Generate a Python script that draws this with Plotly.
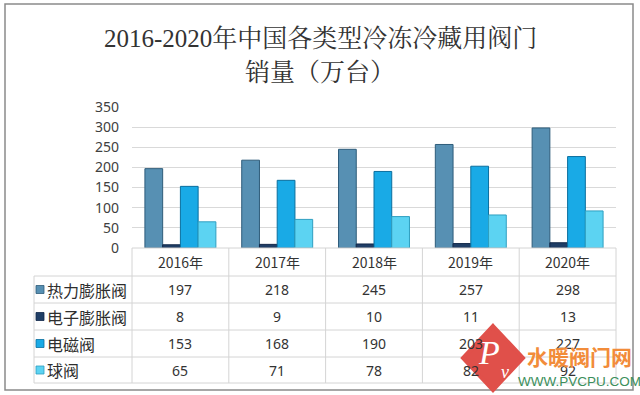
import plotly.graph_objects as go

# ---- data ----
years = ["2016年", "2017年", "2018年", "2019年", "2020年"]
series_names = ["热力膨胀阀", "电子膨胀阀", "电磁阀", "球阀"]
thermal = [197, 218, 245, 257, 298]
electronic = [8, 9, 10, 11, 13]
solenoid = [153, 168, 190, 203, 227]
ball = [65, 71, 78, 82, 92]
y_ticks = [0, 50, 100, 150, 200, 250, 300, 350]

title_line1 = "2016-2020年中国各类型冷冻冷藏用阀门"
title_line2 = "销量（万台）"

series_values = [thermal, electronic, solenoid, ball]
fill_colors = ["#5790b3", "#1f3e66", "#19aae6", "#5cd3f2"]
edge_colors = ["#2e5c7a", "#12284a", "#0b6f9e", "#2f9fc0"]

# ---- layout geometry (pixels) ----
WIDTH, HEIGHT = 640, 395
L, R, T, B = 132, 24, 107, 147
PW = WIDTH - L - R
PH = HEIGHT - T - B


def px(x):
    return (x - L) / PW


def py(y):
    return (T + PH - y) / PH


fig = go.Figure()
for name, vals, fc, ec in zip(series_names, series_values, fill_colors, edge_colors):
    fig.add_trace(go.Bar(
        x=years, y=vals, name=name,
        marker=dict(color=fc, line=dict(color=ec, width=1)),
        showlegend=False,
    ))

shapes = []
annotations = []
grid = "#d4d4d4"

# table geometry
row_edges = [248, 276, 303, 330, 357, 383]
cat_w = PW / len(years)
col_edges = [L + cat_w * k for k in range(len(years) + 1)]
left_edge = 34

# horizontal lines
shapes.append(dict(type="line", xref="paper", yref="paper",
                   x0=px(L), x1=px(L + PW), y0=py(248), y1=py(248),
                   line=dict(color=grid, width=1)))
for yy in row_edges[1:]:
    shapes.append(dict(type="line", xref="paper", yref="paper",
                       x0=px(left_edge), x1=px(L + PW), y0=py(yy), y1=py(yy),
                       line=dict(color=grid, width=1)))
# vertical lines
shapes.append(dict(type="line", xref="paper", yref="paper",
                   x0=px(left_edge), x1=px(left_edge), y0=py(276), y1=py(383),
                   line=dict(color=grid, width=1)))
for xx in col_edges:
    shapes.append(dict(type="line", xref="paper", yref="paper",
                       x0=px(xx), x1=px(xx), y0=py(248), y1=py(383),
                       line=dict(color=grid, width=1)))

# category header
for yr in years:
    annotations.append(dict(x=yr, xref="x", y=py(262), yref="paper",
                            text=yr, showarrow=False, xanchor="center", yanchor="middle",
                            font=dict(family="Noto Sans CJK SC", size=14, color="#333333")))

# rows
row_centers = [(row_edges[i] + row_edges[i + 1]) / 2 for i in range(1, 5)]
for name, vals, fc, ec, yc in zip(series_names, series_values, fill_colors, edge_colors, row_centers):
    shapes.append(dict(type="rect", xref="paper", yref="paper",
                       x0=px(36), x1=px(44), y0=py(yc - 4), y1=py(yc + 4),
                       fillcolor=fc, line=dict(color=ec, width=0.8)))
    annotations.append(dict(x=px(45), xref="paper", y=py(yc), yref="paper",
                            text=name, showarrow=False, xanchor="left", yanchor="middle",
                            font=dict(family="Noto Sans CJK SC", size=16, color="#2e2e2e")))
    for yr, v in zip(years, vals):
        annotations.append(dict(x=yr, xref="x", y=py(yc), yref="paper",
                                text=str(v), showarrow=False, xanchor="center", yanchor="middle",
                                font=dict(family="Noto Sans", size=14, color="#333333")))

# title
title_font = dict(family="Liberation Serif, Noto Serif CJK SC, Noto Sans CJK SC", size=25, color="#333333")
annotations.append(dict(x=px(320), xref="paper", y=py(38), yref="paper", text=title_line1,
                        showarrow=False, xanchor="center", yanchor="middle", font=title_font))
annotations.append(dict(x=px(320), xref="paper", y=py(72), yref="paper", text=title_line2,
                        showarrow=False, xanchor="center", yanchor="middle", font=title_font))

# outer frame
shapes.append(dict(type="rect", xref="paper", yref="paper",
                   x0=px(5), x1=px(633), y0=py(4), y1=py(390),
                   line=dict(color="#8a8a8a", width=1.5), fillcolor="rgba(0,0,0,0)"))

# watermark logo
cx, cy, hw, hh = 493, 358, 30, 32
path = "M {} {} L {} {} L {} {} L {} {} Z".format(
    px(cx), py(cy - hh), px(cx + hw), py(cy), px(cx), py(cy + hh), px(cx - hw), py(cy))
shapes.append(dict(type="path", xref="paper", yref="paper", path=path,
                   fillcolor="#e0504a", line=dict(color="#e0504a", width=4)))
annotations.append(dict(x=px(489), xref="paper", y=py(352), yref="paper", text="<i>P</i>",
                        showarrow=False, xanchor="center", yanchor="middle",
                        font=dict(family="Liberation Serif", size=34, color="white")))
annotations.append(dict(x=px(505), xref="paper", y=py(372), yref="paper", text="<i>v</i>",
                        showarrow=False, xanchor="center", yanchor="middle",
                        font=dict(family="Liberation Serif", size=18, color="white")))
annotations.append(dict(x=px(579), xref="paper", y=py(356), yref="paper", text="<b>水暖阀门网</b>",
                        showarrow=False, xanchor="center", yanchor="middle",
                        font=dict(family="Noto Sans CJK SC", size=21, color="#f28c3a")))
annotations.append(dict(x=px(579), xref="paper", y=py(381), yref="paper", text="WWW.PVCPU.COM",
                        showarrow=False, xanchor="center", yanchor="middle",
                        font=dict(family="Liberation Sans", size=13.5, color="#3b8f5c")))

fig.update_layout(
    width=WIDTH, height=HEIGHT,
    margin=dict(l=L, r=R, t=T, b=B, autoexpand=False),
    paper_bgcolor="white", plot_bgcolor="white",
    barmode="group", bargap=0.267, bargroupgap=0,
    shapes=shapes, annotations=annotations,
    xaxis=dict(showticklabels=False, showgrid=False, zeroline=False, showline=False,
               range=[-0.5, 4.5]),
    yaxis=dict(range=[0, 350], tickvals=y_ticks, ticktext=[str(v) for v in y_ticks],
               showgrid=True, gridcolor="#d9d9d9", gridwidth=1, zeroline=False, showline=False,
               ticks="", ticklabelstandoff=12,
               tickfont=dict(family="Noto Sans", size=14, color="#404040")),
)

fig.write_html(
    "out.html",
    config={"displayModeBar": False},
    post_script="document.body.style.margin='0';document.body.style.overflow='hidden';",
)
